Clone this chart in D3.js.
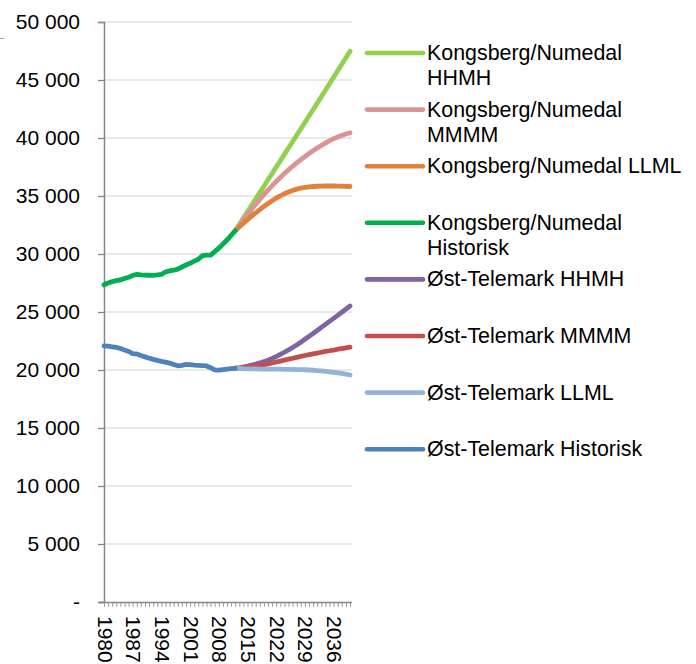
<!DOCTYPE html>
<html><head><meta charset="utf-8">
<script src="https://cdn.jsdelivr.net/npm/d3@7/dist/d3.min.js"></script>
<style>
body{margin:0;background:#fff;}
text{font-family:"Liberation Sans",Arial,Helvetica,sans-serif;fill:#000;}
</style>
</head><body>
<svg id="chart" width="696" height="664"></svg>
<script>
// ---- data ----
const years = d3.range(1980, 2041);
const histStart = 1980;
const projStart = 2012;
const yTicks = [0, 5000, 10000, 15000, 20000, 25000, 30000, 35000, 40000, 45000, 50000];
const xTickLabels = [1980, 1987, 1994, 2001, 2008, 2015, 2022, 2029, 2036];

const knHHMH = [32000, 32540, 33090, 33640, 34190, 34740, 35290, 35840, 36390, 36940, 37490, 38040, 38590, 39140, 39690, 40240, 40790, 41340, 41890, 42440, 42990, 43550, 44110, 44670, 45230, 45790, 46350, 46910, 47470];
const knMMMM = [32000, 32480, 32950, 33410, 33860, 34290, 34710, 35120, 35510, 35890, 36250, 36600, 36930, 37250, 37560, 37850, 38130, 38400, 38660, 38900, 39130, 39350, 39560, 39760, 39940, 40080, 40220, 40340, 40450];
const knLLML = [32000, 32330, 32650, 32960, 33260, 33550, 33830, 34100, 34350, 34590, 34810, 35010, 35190, 35350, 35480, 35590, 35680, 35740, 35790, 35820, 35840, 35850, 35860, 35860, 35860, 35850, 35840, 35830, 35820];
const knHist = [27350, 27500, 27620, 27700, 27760, 27880, 28000, 28150, 28250, 28200, 28180, 28170, 28160, 28200, 28250, 28450, 28550, 28600, 28700, 28880, 29050, 29200, 29380, 29550, 29850, 29900, 29900, 30200, 30500, 30850, 31200, 31600, 32000];
const otHHMH = [20150, 20190, 20250, 20330, 20420, 20510, 20610, 20720, 20850, 21000, 21160, 21340, 21530, 21730, 21940, 22160, 22400, 22650, 22900, 23150, 23410, 23670, 23930, 24190, 24450, 24710, 24980, 25250, 25520];
const otMMMM = [20150, 20170, 20200, 20240, 20290, 20340, 20400, 20460, 20530, 20610, 20690, 20770, 20850, 20930, 21010, 21090, 21170, 21250, 21320, 21390, 21460, 21530, 21600, 21660, 21720, 21790, 21850, 21910, 21970];
const otLLML = [20150, 20130, 20110, 20100, 20090, 20090, 20080, 20080, 20080, 20080, 20070, 20070, 20060, 20060, 20050, 20040, 20030, 20020, 20000, 19980, 19950, 19920, 19880, 19840, 19800, 19750, 19700, 19640, 19570];
const otHist = [22080, 22050, 22000, 21950, 21850, 21720, 21600, 21420, 21380, 21250, 21130, 21020, 20920, 20830, 20750, 20680, 20600, 20480, 20360, 20400, 20480, 20460, 20420, 20400, 20380, 20350, 20200, 20010, 19980, 20030, 20070, 20110, 20150];

const seriesNames = ["Kongsberg/Numedal HHMH", "Kongsberg/Numedal MMMM", "Kongsberg/Numedal LLML", "Kongsberg/Numedal Historisk",
  "Øst-Telemark HHMH", "Øst-Telemark MMMM", "Øst-Telemark LLML", "Øst-Telemark Historisk"];
const seriesValues = [knHHMH, knMMMM, knLLML, knHist, otHHMH, otMMMM, otLLML, otHist];
const seriesStart = [projStart, projStart, projStart, histStart, projStart, projStart, projStart, histStart];
const seriesColors = ["#92d050", "#d99594", "#e0823a", "#00b050", "#8064a2", "#c0504d", "#95b3d7", "#4f81bd"];

// ---- chart ----
const svg = d3.select("#chart");
const plotLeft = 104, plotRight = 350, plotTop = 22, plotBottom = 602;
const x = d3.scalePoint().domain(years).range([plotLeft, plotRight]);
const y = d3.scaleLinear().domain([0, 50000]).range([plotBottom, plotTop]);
const axisColor = "#868686";

// gridlines
svg.append("g").selectAll("line").data(yTicks.filter(d => d > 0)).join("line")
  .attr("x1", plotLeft).attr("x2", plotRight + 2)
  .attr("y1", d => y(d)).attr("y2", d => y(d))
  .attr("stroke", "#dfe3e0").attr("stroke-width", 1.3);

// stray border fragment top-left
svg.append("line").attr("x1", 0).attr("x2", 4).attr("y1", 38.5).attr("y2", 38.5)
  .attr("stroke", "#a0a0a0").attr("stroke-width", 1);

// y axis
const fmt = v => v === 0 ? "-" : d3.format(",")(v).replace(/,/g, " ");
const yAxis = d3.axisLeft(y).tickValues(yTicks).tickFormat(fmt).tickSize(6).tickPadding(18);
const gy = svg.append("g").attr("transform", `translate(${plotLeft},0)`).call(yAxis);
gy.select(".domain").attr("stroke", axisColor).attr("stroke-width", 1.5);
gy.selectAll(".tick line").attr("stroke", axisColor).attr("stroke-width", 1.3);
gy.selectAll(".tick text").style("font-size", "21px").attr("fill", "#000")
  .attr("font-family", "Liberation Sans, Arial, sans-serif");

// x axis
const xAxis = d3.axisBottom(x).tickValues(years).tickSize(5).tickFormat(d => xTickLabels.includes(d) ? String(d) : "");
const gx = svg.append("g").attr("transform", `translate(0,${plotBottom})`).call(xAxis);
gx.select(".domain").attr("d", `M${plotLeft - 5},0.5H${plotRight + 2}`).attr("stroke", axisColor).attr("stroke-width", 1.5);
gx.selectAll(".tick line").attr("stroke", axisColor).attr("stroke-width", 0.8);
gx.selectAll(".tick text").style("font-size", "21px").attr("fill", "#000")
  .attr("font-family", "Liberation Sans, Arial, sans-serif")
  .attr("text-anchor", "start")
  .attr("transform", "rotate(90)")
  .attr("x", 14).attr("y", 0).attr("dy", "0.33em");

// lines
const line = d3.line().x(d => x(d.year)).y(d => y(d.value));
seriesValues.forEach((vals, i) => {
  const pts = vals.map((v, k) => ({ year: seriesStart[i] + k, value: v }));
  svg.append("path").datum(pts)
    .attr("d", line)
    .attr("fill", "none")
    .attr("stroke", seriesColors[i])
    .attr("stroke-width", 4.8)
    .attr("stroke-linecap", "round")
    .attr("stroke-linejoin", "round");
});

// legend
const legendX = 367, legendY0 = 53, legendStep = 56.6, maxTextW = 259;
const lg = svg.append("g");
seriesNames.forEach((name, i) => {
  const cy = legendY0 + i * legendStep;
  lg.append("line").attr("x1", legendX).attr("x2", legendX + 56)
    .attr("y1", cy).attr("y2", cy)
    .attr("stroke", seriesColors[i]).attr("stroke-width", 4.6).attr("stroke-linecap", "round");
  const t = lg.append("text").attr("x", legendX + 60).attr("y", cy + 7).style("font-size", "21.4px");
  // wrap
  const words = name.split(" ");
  let lineWords = [];
  let ts = t.append("tspan").attr("x", legendX + 60).attr("dy", 0);
  words.forEach(w => {
    lineWords.push(w);
    ts.text(lineWords.join(" "));
    if (ts.node().getComputedTextLength() > maxTextW && lineWords.length > 1) {
      lineWords.pop();
      ts.text(lineWords.join(" "));
      lineWords = [w];
      ts = t.append("tspan").attr("x", legendX + 60).attr("dy", 25).text(w);
    }
  });
});
</script>
</body></html>
